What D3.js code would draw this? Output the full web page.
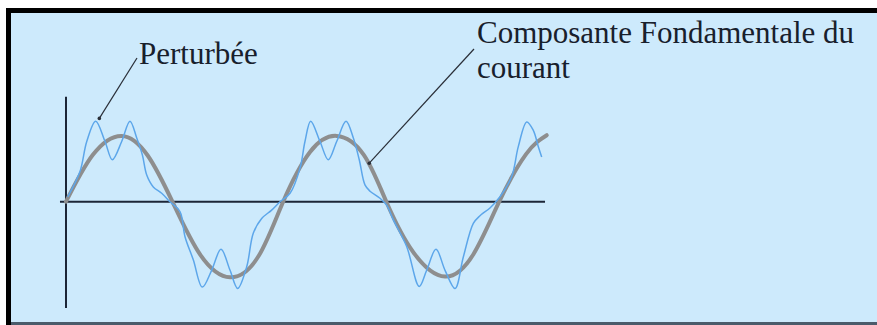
<!DOCTYPE html>
<html>
<head>
<meta charset="utf-8">
<script src="https://cdn.jsdelivr.net/npm/d3@7"></script>
<style>
  html, body { margin: 0; padding: 0; background: #ffffff; }
  #svgOutput svg { display: block; }
</style>
</head>
<body>
<div id="svgOutput"></div>
<script>
// Data (time in ms, value in units of the fundamental amplitude)

const fundTime = [0, 2.5, 5.18, 7.6, 9.9, 12.5, 15.26, 17.9, 20.2, 22.7, 25.18, 27.7, 29.8, 32.3, 35.26, 37.9, 40.3, 42.8, 44.72];
const fundValue = [0, 0.67, 0.94, 0.66, 0, -0.76, -1.08, -0.78, 0, 0.71, 0.94, 0.67, 0, -0.72, -1.07, -0.75, 0, 0.68, 0.95];

const pertTime = [0.16, 1.30, 1.93, 2.76, 3.63, 4.31, 5.18, 5.95, 6.58, 7.10, 7.51, 8.12, 8.90, 9.67, 10.60, 11.07, 11.84,
  12.68, 13.55, 14.42, 15.26, 15.97, 16.81, 17.42, 18.20, 19.13, 19.91, 20.84,
  21.77, 22.23, 22.76, 23.63, 24.40, 25.18, 26.05, 26.73, 27.28, 27.81, 28.28, 29.21, 29.83, 30.45, 31.69,
  32.86, 33.55, 34.42, 35.26, 36.19, 36.96, 37.89, 38.51, 39.44, 40.37, 41.46, 42.08, 42.86, 43.47, 43.93, 44.25];
const pertValue = [0.07, 0.43, 0.86, 1.15, 0.86, 0.60, 0.86, 1.15, 0.91, 0.67, 0.38, 0.21, 0.12, 0, -0.14, -0.50, -0.83,
  -1.22, -0.98, -0.68, -0.98, -1.24, -0.93, -0.45, -0.24, -0.12, 0, 0.12,
  0.48, 0.86, 1.15, 0.86, 0.60, 0.86, 1.15, 0.91, 0.60, 0.24, 0.15, 0.05, -0.05, -0.26, -0.64,
  -1.21, -0.98, -0.68, -0.98, -1.24, -0.79, -0.31, -0.20, -0.09, 0.07, 0.36, 0.79, 1.14, 1.02, 0.79, 0.64];

// Labels and the point each leader line reaches

const labelTexts = [["Perturbée"], ["Composante Fondamentale du", "courant"]];
const labelTargets = [[3.10, 1.19], [28.21, 0.55]];

(function () {
  document.addEventListener('DOMContentLoaded', function () {

    // Config

    const width = 877;
    const height = 325;
    const fontFamily = "'Liberation Serif', 'Times New Roman', serif";
    const fontSize = 31;

    const colors = {
      "panel": "#cdeafc",
      "frame": "#000000",
      "frameBottom": "#4b5b6b",
      "axis": "#1c2637",
      "fund": "#8e8e8e",
      "pert": "#5ca6ea",
      "text": "#18202c",
      "leader": "#2a2f38"
    };

    // where each label sits and where its leader line starts (pixels)
    const labelPos = [
      { "x": 139, "y": 64, "lx": 137, "ly": 58 },
      { "x": 477, "y": 43, "lx": 474, "ly": 49 }
    ];

    const svg = d3.select("#svgOutput")
      .append("svg")
      .attr("width", width)
      .attr("height", height)
      .attr("viewBox", [0, 0, width, height]);

    // Frame and panel

    svg.append("rect")
      .attr("x", 0).attr("y", 0)
      .attr("width", width).attr("height", height)
      .attr("fill", "#ffffff");

    svg.append("rect")
      .attr("x", 6).attr("y", 8)
      .attr("width", width - 6).attr("height", height - 8)
      .attr("fill", colors.frame);

    svg.append("rect")
      .attr("x", 11).attr("y", 13)
      .attr("width", width - 11).attr("height", height - 13)
      .attr("fill", colors.panel);

    svg.append("rect")
      .attr("x", 11).attr("y", 322)
      .attr("width", width - 11).attr("height", 3)
      .attr("fill", colors.frameBottom);

    // Scales

    const xScale = d3.scaleLinear()
      .domain([0, 40])
      .range([66, 496]);

    const yScale = d3.scaleLinear()
      .domain([-1, 1])
      .range([271.7, 131.7]);

    // Axes (bare lines, no ticks)

    svg.append("line")
      .attr("class", "xAxis")
      .attr("x1", xScale(-0.56))
      .attr("x2", xScale(44.56))
      .attr("y1", yScale(0))
      .attr("y2", yScale(0))
      .attr("stroke", colors.axis)
      .attr("stroke-width", 2);

    svg.append("line")
      .attr("class", "yAxis")
      .attr("x1", xScale(0))
      .attr("x2", xScale(0))
      .attr("y1", yScale(1.5))
      .attr("y2", yScale(-1.52))
      .attr("stroke", colors.axis)
      .attr("stroke-width", 2);

    // Curves

    const fundLine = d3.line()
      .x(d => xScale(d[0]))
      .y(d => yScale(d[1]))
      .curve(d3.curveNatural);

    const pertLine = d3.line()
      .x(d => xScale(d[0]))
      .y(d => yScale(d[1]))
      .curve(d3.curveCatmullRom.alpha(0.5));

    const fundData = fundTime.map((t, i) => [t, fundValue[i]]);
    const pertData = pertTime.map((t, i) => [t, pertValue[i]]);

    svg.append("path")
      .datum(fundData)
      .attr("class", "fund")
      .attr("d", fundLine)
      .attr("fill", "none")
      .attr("stroke", colors.fund)
      .attr("stroke-width", 4)
      .attr("stroke-linecap", "round");

    svg.append("path")
      .datum(pertData)
      .attr("class", "pert")
      .attr("d", pertLine)
      .attr("fill", "none")
      .attr("stroke", colors.pert)
      .attr("stroke-width", 1.5);

    // Labels and leader lines

    labelTexts.forEach((lines, i) => {
      const pos = labelPos[i];
      const target = labelTargets[i];

      svg.append("line")
        .attr("x1", pos.lx)
        .attr("y1", pos.ly)
        .attr("x2", xScale(target[0]))
        .attr("y2", yScale(target[1]))
        .attr("stroke", colors.leader)
        .attr("stroke-width", 1.2);

      svg.append("circle")
        .attr("cx", xScale(target[0]))
        .attr("cy", yScale(target[1]))
        .attr("r", 1.8)
        .attr("fill", colors.leader);

      const text = svg.append("text")
        .attr("x", pos.x)
        .attr("y", pos.y)
        .attr("font-family", fontFamily)
        .attr("font-size", fontSize)
        .attr("fill", colors.text);

      text.selectAll("tspan")
        .data(lines)
        .join("tspan")
        .attr("x", pos.x)
        .attr("dy", (d, j) => j === 0 ? 0 : 35)
        .text(d => d);
    });

  });
})();
</script>
</body>
</html>
